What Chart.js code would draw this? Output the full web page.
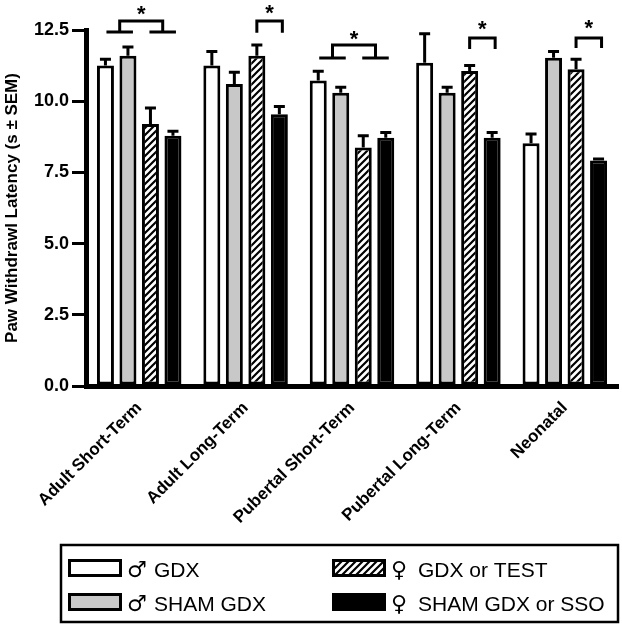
<!DOCTYPE html>
<html>
<head>
<meta charset="utf-8">
<script src="https://cdn.jsdelivr.net/npm/chart.js@4.4.1/dist/chart.umd.min.js"></script>
<style>
  html, body { margin: 0; padding: 0; background: #fff; }
  #wrap { width: 622px; height: 624px; position: relative; }
</style>
</head>
<body>
<div id="wrap"><canvas id="chart"></canvas></div>
<script>
const FONT = "'Liberation Sans', Arial, Helvetica, sans-serif";

const categories = ['Adult Short-Term', 'Adult Long-Term', 'Pubertal Short-Term', 'Pubertal Long-Term', 'Neonatal'];
const yTicks = [0, 2.5, 5, 7.5, 10, 12.5];

// means and SEM
const maleGdx = [11.25, 11.25, 10.73, 11.35, 8.52];
const maleGdxSem = [0.28, 0.55, 0.37, 1.07, 0.38];
const maleSham = [11.6, 10.6, 10.3, 10.3, 11.53];
const maleShamSem = [0.36, 0.47, 0.24, 0.24, 0.27];
const femGdx = [9.2, 11.6, 8.37, 11.06, 11.12];
const femGdxSem = [0.61, 0.43, 0.47, 0.25, 0.41];
const femSham = [8.79, 9.54, 8.72, 8.72, 7.92];
const femShamSem = [0.21, 0.33, 0.23, 0.23, 0.10];

// significance brackets (values in y units)
const sigKind = ['pairs', 'adjacent', 'pairs', 'adjacent', 'adjacent'];
const sigLow = [12.43, 12.4, 11.52, 11.83, 11.87];
const sigHigh = [12.82, 12.82, 11.97, 12.22, 12.22];
const sigStar = [13.27, 13.3, 12.39, 12.75, 12.78];

// legend text: sex symbol + group name
const legendSymbols = ['\u2642', '\u2642', '\u2640', '\u2640'];
const legendNames = ['GDX', 'SHAM GDX', 'GDX or TEST', 'SHAM GDX or SSO'];

function hatch() {
  const s = 7;
  const c = document.createElement('canvas');
  c.width = s; c.height = s;
  const g = c.getContext('2d');
  g.fillStyle = '#fff';
  g.fillRect(0, 0, s, s);
  g.strokeStyle = '#000';
  g.lineWidth = 2.2;
  g.beginPath();
  g.moveTo(-1, s + 1); g.lineTo(s + 1, -1);
  g.moveTo(-1, 1); g.lineTo(1, -1);
  g.moveTo(s - 1, s + 1); g.lineTo(s + 1, s - 1);
  g.stroke();
  return g.createPattern(c, 'repeat');
}

const errorBars = {
  id: 'errorBars',
  afterDatasetsDraw(chart) {
    const ctx = chart.ctx;
    const y = chart.scales.y;
    ctx.save();
    ctx.strokeStyle = '#000';
    ctx.lineWidth = 3;
    chart.data.datasets.forEach((ds, i) => {
      chart.getDatasetMeta(i).data.forEach((bar, j) => {
        const top = y.getPixelForValue(ds.data[j] + ds.sem[j]);
        ctx.beginPath();
        ctx.moveTo(bar.x, bar.y);
        ctx.lineTo(bar.x, top);
        ctx.moveTo(bar.x - 5.5, top + 1.5);
        ctx.lineTo(bar.x + 5.5, top + 1.5);
        ctx.stroke();
      });
    });
    ctx.restore();
  }
};

const sigMarks = {
  id: 'sigMarks',
  afterDatasetsDraw(chart) {
    const ctx = chart.ctx;
    const y = chart.scales.y;
    const bx = (d, j) => chart.getDatasetMeta(d).data[j].x;
    ctx.save();
    ctx.strokeStyle = '#000';
    ctx.lineWidth = 3;
    ctx.lineCap = 'butt';
    ctx.fillStyle = '#000';
    ctx.font = 'bold 22px ' + FONT;
    ctx.textAlign = 'center';
    ctx.textBaseline = 'alphabetic';
    sigKind.forEach((kind, j) => {
      const lo = y.getPixelForValue(sigLow[j]);
      const hi = y.getPixelForValue(sigHigh[j]);
      let starX;
      ctx.beginPath();
      if (kind === 'pairs') {
        const l0 = bx(0, j) + 1, l1 = bx(1, j) + 5;
        const r0 = bx(2, j) - 1, r1 = bx(3, j) + 3;
        const m0 = (l0 + l1) / 2, m1 = (r0 + r1) / 2;
        ctx.moveTo(l0, lo); ctx.lineTo(l1, lo);
        ctx.moveTo(r0, lo); ctx.lineTo(r1, lo);
        ctx.moveTo(m0, lo); ctx.lineTo(m0, hi); ctx.lineTo(m1, hi); ctx.lineTo(m1, lo);
        starX = (m0 + m1) / 2;
      } else {
        const a = bx(2, j), b = bx(3, j) + 3;
        ctx.moveTo(a, lo); ctx.lineTo(a, hi); ctx.lineTo(b, hi); ctx.lineTo(b, lo);
        starX = (a + b) / 2;
      }
      ctx.stroke();
      ctx.fillText('*', starX, y.getPixelForValue(sigStar[j]) + 13);
    });
    ctx.restore();
  }
};

const boxLegend = {
  id: 'boxLegend',
  afterDraw(chart) {
    const ctx = chart.ctx;
    ctx.save();
    ctx.strokeStyle = '#000';
    ctx.lineWidth = 2.5;
    ctx.strokeRect(61, 545, 557, 77);
    const cols = [68, 332];
    const rows = [559, 593];
    chart.data.datasets.forEach((ds, d) => {
      const x = cols[Math.floor(d / 2)];
      const yy = rows[d % 2];
      ctx.fillStyle = ds.backgroundColor;
      ctx.fillRect(x, yy, 54, 18);
      ctx.lineWidth = 3;
      ctx.strokeRect(x + 1.5, yy + 1.5, 51, 15);
      ctx.fillStyle = '#000';
      ctx.textAlign = 'left';
      ctx.textBaseline = 'alphabetic';
      ctx.font = '22px "DejaVu Sans", sans-serif';
      ctx.fillText(legendSymbols[d], x + 59, yy + 18);
      ctx.font = '21px ' + FONT;
      ctx.fillText(legendNames[d], x + 86, yy + 18);
    });
    ctx.restore();
  }
};

const barStyle = { borderColor: '#000', borderWidth: 3, borderSkipped: false };

new Chart(document.getElementById('chart'), {
  type: 'bar',
  data: {
    labels: categories,
    datasets: [
      { label: legendNames[0], data: maleGdx, sem: maleGdxSem, backgroundColor: '#fff', ...barStyle },
      { label: legendNames[1], data: maleSham, sem: maleShamSem, backgroundColor: '#c8c8c8', ...barStyle },
      { label: legendNames[2], data: femGdx, sem: femGdxSem, backgroundColor: hatch(), ...barStyle },
      { label: legendNames[3], data: femSham, sem: femShamSem, backgroundColor: '#000', ...barStyle },
    ],
  },
  options: {
    responsive: true,
    maintainAspectRatio: false,
    animation: false,
    categoryPercentage: 0.846,
    barPercentage: 0.755,
    layout: { padding: { top: 30, right: 4, left: 0, bottom: 0 } },
    plugins: {
      legend: { display: false },
      tooltip: { enabled: false },
    },
    scales: {
      x: {
        grid: { display: false },
        border: { display: true, color: '#000', width: 5 },
        ticks: {
          color: '#000',
          font: { family: FONT, size: 17, weight: 'bold' },
          minRotation: 45,
          maxRotation: 45,
          padding: 4,
        },
        afterFit: (s) => { s.height = 238; },
      },
      y: {
        min: 0,
        max: 12.5,
        afterBuildTicks: (s) => { s.ticks = yTicks.map(v => ({ value: v })); },
        grid: { drawOnChartArea: false, drawTicks: true, tickLength: 14, lineWidth: 3, color: '#000' },
        border: { display: true, color: '#000', width: 5 },
        ticks: {
          color: '#000',
          padding: 3,
          font: { family: FONT, size: 18, weight: 'bold' },
          callback: (v) => Number(v).toFixed(1),
        },
        title: {
          display: true,
          text: 'Paw Withdrawl Latency (s \u00b1 SEM)',
          color: '#000',
          font: { family: FONT, size: 17, weight: 'bold' },
          padding: { top: 2, bottom: 0 },
        },
        afterFit: (s) => { s.width = 86; },
      },
    },
  },
  plugins: [errorBars, sigMarks, boxLegend],
});
</script>
</body>
</html>
